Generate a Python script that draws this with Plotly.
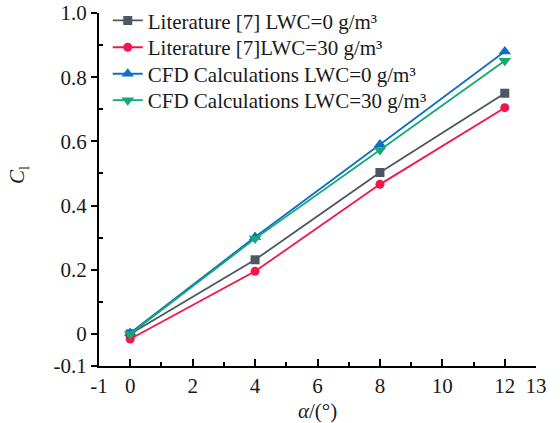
import plotly.graph_objects as go

alpha = [0, 4, 8, 12]
lit_lwc0 = [0.0, 0.231, 0.503, 0.750]
lit_lwc30 = [-0.016, 0.195, 0.466, 0.705]
cfd_lwc0 = [0.003, 0.302, 0.590, 0.880]
cfd_lwc30 = [0.0, 0.297, 0.573, 0.851]

names = [
    "Literature [7] LWC=0 g/m³",
    "Literature [7]LWC=30 g/m³",
    "CFD Calculations LWC=0 g/m³",
    "CFD Calculations LWC=30 g/m³",
]
series = [lit_lwc0, lit_lwc30, cfd_lwc0, cfd_lwc30]
colors = ["#4d5761", "#f0174b", "#0e6fc6", "#14a873"]
symbols = ["square", "circle", "triangle-up", "triangle-down"]
msizes = [9, 9, 11, 11]

x_ticks = [-1, 0, 2, 4, 6, 8, 10, 12, 13]
y_ticks = [-0.1, 0, 0.2, 0.4, 0.6, 0.8, 1.0]
y_ticktext = ["-0.1", "0", "0.2", "0.4", "0.6", "0.8", "1.0"]

FONT = "Liberation Serif"
TXT = "#1a1a1a"

legend_ids = ["legend", "legend2", "legend3", "legend4"]
legend_ys = [1.036, 0.960, 0.885, 0.810]

fig = go.Figure()
for name, ys, c, s, ms, lid in zip(names, series, colors, symbols, msizes, legend_ids):
    fig.add_trace(go.Scatter(
        x=alpha, y=ys, mode="lines+markers", name=name,
        line=dict(color=c, width=1.8),
        marker=dict(symbol=s, size=ms, color=c),
        legend=lid,
    ))

legend_common = dict(
    x=0.02, xanchor="left", yanchor="top",
    bgcolor="rgba(0,0,0,0)", font=dict(family=FONT, size=21, color=TXT),
    itemwidth=30,
)

fig.update_layout(
    width=560, height=423,
    margin=dict(l=99, r=24, t=13, b=57, autoexpand=False),
    paper_bgcolor="white", plot_bgcolor="white",
    font=dict(family=FONT, size=21, color=TXT),
    showlegend=True,
    xaxis=dict(
        range=[-1, 13], tickvals=x_ticks, ticktext=[str(v) for v in x_ticks],
        showgrid=False, zeroline=False, showline=True, linecolor="black", linewidth=2,
        ticks="inside", ticklen=7, tickwidth=1.5, tickcolor="black",
        minor=dict(tickvals=[1, 3, 5, 7, 9, 11], ticks="inside", ticklen=4,
                   tickwidth=1.5, tickcolor="black", showgrid=False),
        title=dict(text="<i>α</i>/(°)", font=dict(family=FONT, size=21, color=TXT), standoff=6),
        tickfont=dict(family=FONT, size=21, color=TXT),
    ),
    yaxis=dict(
        range=[-0.1, 1.0], tickvals=y_ticks, ticktext=y_ticktext,
        showgrid=False, zeroline=False, showline=True, linecolor="black", linewidth=2,
        ticks="outside", ticklen=6, tickwidth=1.5, tickcolor="black",
        minor=dict(tickvals=[0.1, 0.3, 0.5, 0.7, 0.9], ticks="inside", ticklen=4,
                   tickwidth=1.5, tickcolor="black", showgrid=False),
        tickfont=dict(family=FONT, size=21, color=TXT),
    ),
)
for lid, ly in zip(legend_ids, legend_ys):
    fig.update_layout({lid: dict(legend_common, y=ly)})

fig.add_annotation(
    text="<i>C</i><sub>l</sub>", xref="paper", yref="paper",
    x=-0.218, y=0.54, showarrow=False, textangle=-90,
    font=dict(family=FONT, size=21, color=TXT),
)

fig.write_html("out.html")
